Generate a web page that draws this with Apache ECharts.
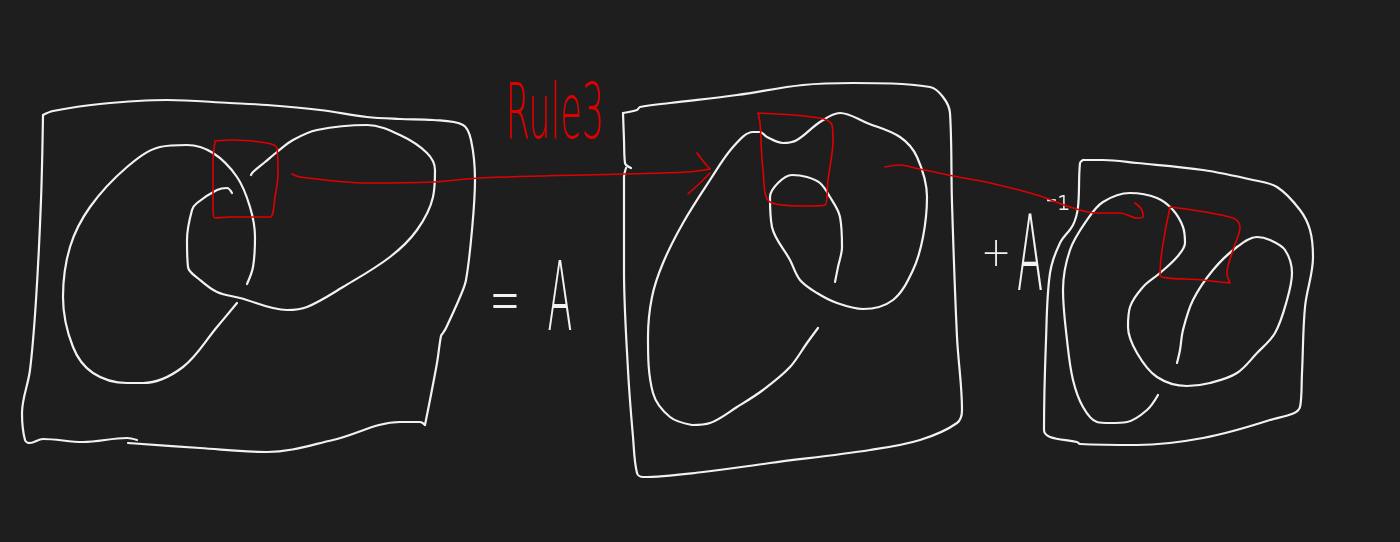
<!DOCTYPE html>
<html lang="en">
<head>
    <meta charset="UTF-8">
    <title>Rule 3 sketch</title>
    <script src="https://cdn.jsdelivr.net/npm/echarts/dist/echarts.min.js"></script>
    <style>
        html, body { margin: 0; padding: 0; background: #1e1e1e; }
    </style>
</head>
<body>
    <div id="main" style="width: 1400px;height:542px;"></div>
    <script>
        // strokes in picture coordinates (x right, y down)
        const frame1Top = [[43,115],[53,111],[100,104],[167,100],[230,103],[267,105],[320,110],[367,117],[400,119],[433,120],[463,125],[471,140],[475,180],[472,230],[466,280],[460,297],[446,328],[443,333],[441,336],[437,363],[425,425]];
        const frame1Left = [[43,115],[41,200],[36,300],[30,370],[22,413],[25,440],[30,443],[43,439],[83,442],[127,438],[137,440]];
        const frame1Bottom = [[128,443],[200,448],[267,452],[333,440],[400,422],[420,422],[425,425]];
        const loop1Left = [[237,303],[217,327],[183,367],[143,383],[127,383],[93,373],[73,347],[63,297],[70,247],[90,207],[127,167],[160,147],[187,145],[213,153],[237,177],[250,207],[255,237],[253,267],[247,284]];
        const loop1Right = [[232,193],[227,188],[217,190],[197,203],[192,210],[187,240],[188,267],[200,280],[217,292],[240,298],[287,310],[307,307],[343,287],[390,257],[417,230],[433,197],[435,170],[427,153],[400,135],[367,125],[317,130],[293,140],[277,152],[265,162],[253,172],[251,175]];
        const box1 = [[215,141],[233,140],[267,143],[277,148],[278,173],[275,197],[270,217],[253,217],[230,217],[215,218],[213,207],[213,163],[215,141]];
        const arrow1 = [[292,174],[300,177],[367,183],[433,182],[480,178],[623,174],[687,172],[710,169]];
        const arrow1HeadA = [[697,153],[703,161],[710,169]];
        const arrow1HeadB = [[710,173],[700,183],[688,194]];

        const frame2 = [[623,113],[637,110],[640,107],[670,103],[737,95],[803,85],[853,83],[930,87],[943,97],[950,113],[952,203],[957,337],[962,410],[957,423],[920,440],[870,450],[770,463],[703,472],[643,477],[637,473],[633,437],[628,370],[624,270],[624,177],[626,168]];
        const frame2Corner = [[623,113],[624,140],[625,163],[631,168]];
        const loop2Tail = [[692,425],[710,423],[737,407],[763,390],[790,367],[807,343],[818,328]];
        const loop2 = [[692,425],[670,417],[653,393],[648,337],[652,297],[663,263],[683,223],[710,180],[733,147],[753,132],[760,132],[767,137],[783,143],[797,140],[820,122],[840,113],[867,123],[900,137],[917,157],[927,197],[923,237],[913,270],[893,300],[863,309],[837,303],[817,293],[800,280],[790,260],[772,227],[770,197],[778,183],[792,175],[807,177],[820,183],[830,197],[840,217],[842,247],[838,267],[835,282]];
        const box2 = [[758,113],[820,118],[832,125],[833,140],[828,180],[825,205],[803,206],[770,202],[763,170],[760,123],[758,113]];
        const arrow2 = [[885,167],[900,165],[915,168],[953,176],[990,183],[1037,195],[1070,207],[1097,213],[1120,213],[1137,218],[1143,217],[1142,210],[1135,203]];

        const frame3 = [[1083,160],[1080,163],[1078,207],[1073,225],[1060,243],[1050,273],[1046,340],[1044,430],[1050,437],[1077,442],[1080,444],[1137,445],[1203,438],[1270,420],[1300,407],[1302,373],[1305,307],[1313,257],[1310,230],[1300,210],[1277,187],[1253,180],[1203,170],[1137,163],[1103,160],[1083,160]];
        const loop3 = [[1158,395],[1147,410],[1127,422],[1110,423],[1097,422],[1083,407],[1073,380],[1067,340],[1063,290],[1070,250],[1087,220],[1103,202],[1130,193],[1157,198],[1173,210],[1183,227],[1185,243],[1177,257],[1160,273],[1143,287],[1130,307],[1128,327],[1137,353],[1157,377],[1187,386],[1210,383],[1237,373],[1257,353],[1275,333],[1287,300],[1292,273],[1285,250],[1270,240],[1257,237],[1237,247],[1213,270],[1193,300],[1183,330],[1180,350],[1177,363]];
        const box3 = [[1170,207],[1233,218],[1240,227],[1233,250],[1227,273],[1230,283],[1203,280],[1160,275],[1162,250],[1170,207]];

        const whiteStrokes = [frame1Top, frame1Left, frame1Bottom, loop1Left, loop1Right,
            frame2, frame2Corner, loop2Tail, loop2, frame3, loop3];
        const redStrokes = [box1, arrow1, arrow1HeadA, arrow1HeadB, box2, arrow2, box3];

        // handwritten words and their anchor points
        const words = ['Rule3', '=', 'A', '+', 'A', '⁻¹'];
        const wordAnchors = [[555,118],[505,305],[560,305],[996,256],[1030,262],[1058,214]];

        const chart = echarts.init(document.getElementById('main'));

        function strokeSeries(points, color, width) {
            return {
                type: 'line',
                data: points,
                smooth: 0.35,
                symbol: 'none',
                silent: true,
                animation: false,
                lineStyle: { color: color, width: width, cap: 'round', join: 'round' }
            };
        }

        const series = whiteStrokes.map(s => strokeSeries(s, '#f2f2f2', 2.2))
            .concat(redStrokes.map(s => strokeSeries(s, '#e00000', 1.6)));

        chart.setOption({
            backgroundColor: '#1e1e1e',
            animation: false,
            grid: { left: 0, right: 0, top: 0, bottom: 0 },
            xAxis: { type: 'value', min: 0, max: 1400, show: false },
            yAxis: { type: 'value', min: 0, max: 542, inverse: true, show: false },
            series: series
        });

        const wordStyles = [
            { size: 70, sx: 0.5, sy: 1.1, color: '#e00000' },
            { size: 46, sx: 0.8, sy: 1.6, color: '#f2f2f2' },
            { size: 96, sx: 0.38, sy: 1, color: '#f2f2f2' },
            { size: 40, sx: 0.9, sy: 1, color: '#f2f2f2' },
            { size: 106, sx: 0.36, sy: 1, color: '#f2f2f2' },
            { size: 40, sx: 0.8, sy: 1, color: '#f2f2f2' }
        ];

        const graphic = words.map((w, i) => {
            const p = chart.convertToPixel({ gridIndex: 0 }, wordAnchors[i]);
            const st = wordStyles[i];
            return {
                type: 'text',
                x: p[0],
                y: p[1],
                scaleX: st.sx,
                scaleY: st.sy,
                silent: true,
                style: {
                    text: w,
                    fill: st.color,
                    fontSize: st.size,
                    fontFamily: 'DejaVu Sans',
                    fontWeight: 200,
                    align: 'center',
                    verticalAlign: 'middle'
                }
            };
        });

        chart.setOption({ graphic: graphic });
    </script>
</body>
</html>
